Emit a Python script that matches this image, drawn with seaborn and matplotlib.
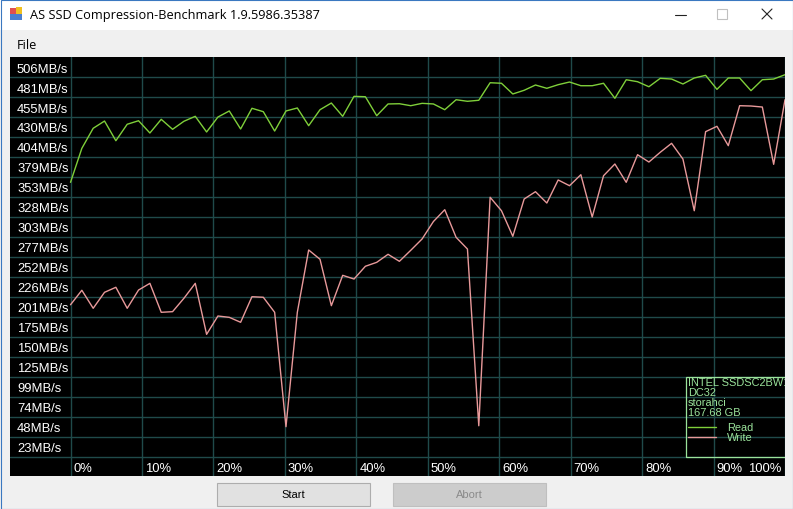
import numpy as np
import pandas as pd
import matplotlib
matplotlib.use('Agg')
import matplotlib.pyplot as plt
from matplotlib.patches import Rectangle
import seaborn as sns

# Values (MB/s), one sample per step from 0% to 100%
read_mbs = [346.7, 389.9, 415.4, 424.6, 399.6, 420.5, 425.0, 409.4, 426.8, 414.1,
            424.3, 430.6, 410.7, 429.7, 437.4, 414.5, 440.8, 436.5, 411.9, 437.4,
            441.2, 418.7, 439.0, 447.5, 430.6, 456.0, 455.5, 431.4, 446.3, 446.6,
            444.1, 447.1, 446.3, 439.0, 451.7, 449.7, 451.0, 473.3, 472.6, 459.0,
            463.7, 470.4, 466.2, 470.8, 474.2, 469.5, 469.5, 472.6, 453.5, 477.1,
            474.6, 468.2, 478.9, 478.0, 471.7, 479.3, 482.7, 464.9, 479.3, 479.3,
            463.2, 477.1, 478.0, 483.5]
write_mbs = [191.1, 209.5, 186.6, 206.9, 213.3, 186.6, 209.8, 218.3, 181.5, 182.3,
             199.3, 218.3, 153.5, 176.8, 175.1, 168.8, 201.3, 200.6, 181.5, 36.1,
             181.5, 260.7, 248.9, 189.9, 228.5, 223.8, 240.0, 245.0, 255.2, 246.3,
             260.3, 274.7, 296.9, 311.9, 276.8, 261.9, 37.3, 327.7, 310.6, 278.1,
             325.5, 334.8, 320.4, 349.7, 342.4, 356.4, 302.6, 355.1, 370.0, 346.7,
             381.8, 372.5, 384.9, 396.3, 376.3, 310.6, 411.1, 417.9, 393.3, 444.1,
             443.7, 442.4, 369.6, 451.7]
y_labels = [506, 481, 455, 430, 404, 379, 353, 328, 303, 277,
            252, 226, 201, 175, 150, 125, 99, 74, 48, 23]
x_labels = [0, 10, 20, 30, 40, 50, 60, 70, 80, 90, 100]
device_info = ['INTEL SSDSC2BW180A4', 'DC32', 'storahci', '167.68 GB']
title = 'AS SSD Compression-Benchmark 1.9.5986.35387'

W, H = 793, 510
READ_C = '#7fcf3a'
WRITE_C = '#e8999a'
GRID_C = '#1f4a4a'
LEG_C = '#9be39b'

pct = np.linspace(0, 100, len(read_mbs))
df = pd.DataFrame({'pct': np.concatenate([pct, pct]),
                   'mbs': read_mbs + write_mbs,
                   'kind': ['Read'] * len(read_mbs) + ['Write'] * len(write_mbs)})

sns.set_style('dark')
plt.rcParams['font.family'] = ['Liberation Sans', 'DejaVu Sans']

fig = plt.figure(figsize=(W / 100, H / 100), dpi=100)
fig.patch.set_facecolor('#f0f0f0')

# window chrome drawn in pixel coordinates
ui = fig.add_axes([0, 0, 1, 1])
ui.set_xlim(0, W)
ui.set_ylim(H, 0)
ui.axis('off')
ui.add_patch(Rectangle((0, 0), W, 31, color='white', lw=0))
ui.add_patch(Rectangle((10, 9), 6, 6, color='#e05050', lw=0))
ui.add_patch(Rectangle((16, 8), 6, 7, color='#f0c020', lw=0))
ui.add_patch(Rectangle((10, 15), 12, 6, color='#4a7fd0', lw=0))
ui.text(30, 15.5, title, fontsize=9.2, family=['Open Sans', 'DejaVu Sans'],
        va='center', ha='left', color='black')
ui.plot([675, 686], [15.5, 15.5], color='#222222', lw=0.8)
ui.add_patch(Rectangle((717, 10), 10, 10, fill=False, ec='#c0c0c0', lw=0.8))
ui.plot([762, 772], [10, 20], color='#222222', lw=0.8)
ui.plot([762, 772], [20, 10], color='#222222', lw=0.8)
ui.text(17, 45.5, 'File', fontsize=9.2, family=['Open Sans', 'DejaVu Sans'],
        va='center', ha='left', color='black')
ui.add_patch(Rectangle((216.5, 483.5), 153, 23, fc='#e1e1e1', ec='#adadad', lw=0.8))
ui.text(293, 495, 'Start', fontsize=8, va='center', ha='center', color='black')
ui.add_patch(Rectangle((392.5, 483.5), 153, 23, fc='#cccccc', ec='#bfbfbf', lw=0.8))
ui.text(469, 495, 'Abort', fontsize=8, va='center', ha='center', color='#8a8a8a')
ui.add_patch(Rectangle((0.5, 0.5), W - 1, H - 1, fill=False, ec='#3a78c0', lw=0.8))

# graph area: black panel from x=10..785, y=58..477 px
ax = fig.add_axes([10 / W, 1 - 477 / H, 775 / W, 419 / H])
ax.set_facecolor('black')
step = (y_labels[0] - y_labels[-1]) / (len(y_labels) - 1)
y_top = y_labels[0]
px_val = step / 20.0
x_left = -(70.5 - 10) / (785 - 70.5) * 100
ax.set_xlim(x_left, 100)
ax.set_ylim(y_top - 419 * px_val, y_top)

grid_y = [y_top - k * step for k in range(1, len(y_labels) + 1)]
for gy in grid_y:
    ax.axhline(gy, color=GRID_C, lw=1.0, zorder=1)
for gx in x_labels:
    ax.axvline(gx, color=GRID_C, lw=1.0, zorder=1)

sns.lineplot(data=df, x='pct', y='mbs', hue='kind', ax=ax,
             palette={'Read': READ_C, 'Write': WRITE_C}, lw=1.0,
             legend=False, zorder=3)

for i, lab in enumerate(y_labels):
    ax.text(7 / 775, y_top - (i + 0.5) * step - 1.5 * px_val, f'{lab}MB/s',
            transform=ax.get_yaxis_transform(), color='white', fontsize=9.4,
            va='center', ha='left')
for lab in x_labels:
    if lab == 100:
        ax.text(lab - 0.55, -15.5 - 0.5 * px_val, f'{lab}%', color='white',
                fontsize=9.4, va='center', ha='right')
    else:
        ax.text(lab + 0.42, -15.5 - 0.5 * px_val, f'{lab}%', color='white',
                fontsize=9.4, va='center', ha='left')


def ap(x, y):
    return ((x - 10) / 775, (477 - y) / 419)


# info / legend box in the lower right corner
ax.add_patch(Rectangle(ap(685.5, 457.5), 110 / 775, 80 / 419, transform=ax.transAxes,
                       fill=False, ec=LEG_C, lw=0.9, zorder=5, clip_on=True))
for i, line in enumerate(device_info):
    x0, y0 = ap(688, 382.5 + i * 10.3)
    ax.text(x0, y0, line, transform=ax.transAxes, color=LEG_C, fontsize=7.9,
            va='center', ha='left', clip_on=True, zorder=6, linespacing=1.0)
for j, (name, col) in enumerate([('Read', READ_C), ('Write', WRITE_C)]):
    yy = 428 + j * 10
    xa, ya = ap(688, yy)
    xb, _ = ap(716, yy)
    ax.plot([xa, xb], [ya, ya], transform=ax.transAxes, color=col, lw=1.0, zorder=6)
    xt, yt = ap(727, yy)
    ax.text(xt, yt, name, transform=ax.transAxes, color=LEG_C, fontsize=7.9,
            va='center', ha='left', zorder=6)

ax.set_xticks([])
ax.set_yticks([])
ax.set_xlabel('')
ax.set_ylabel('')
for s in ax.spines.values():
    s.set_visible(False)

fig.savefig('out.png', dpi=100, facecolor=fig.get_facecolor())
